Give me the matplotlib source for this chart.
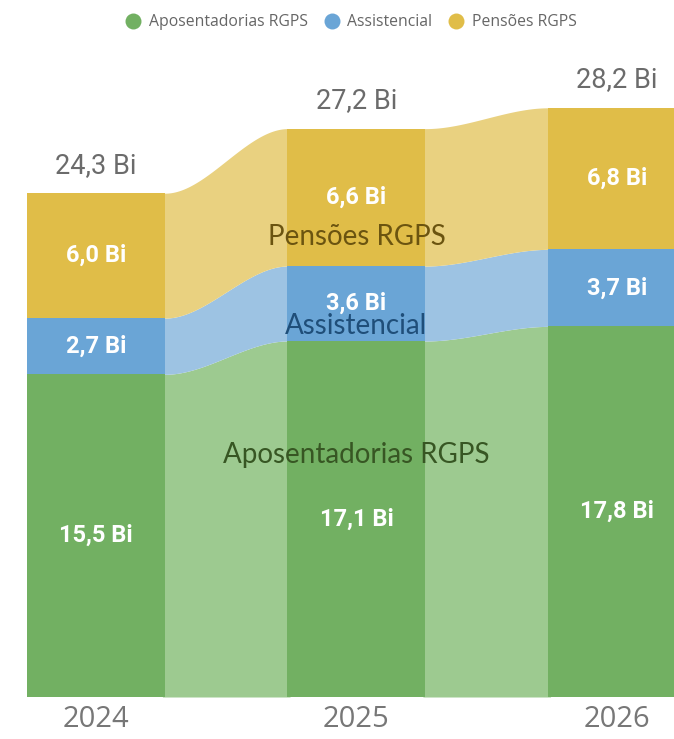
import numpy as np
import matplotlib
matplotlib.use("Agg")
from matplotlib import pyplot as plt
from matplotlib.lines import Line2D

years = ["2024", "2025", "2026"]
series = ["Aposentadorias RGPS", "Assistencial", "Pensões RGPS"]
aposentadorias = [15.5, 17.1, 17.8]
assistencial = [2.7, 3.6, 3.7]
pensoes = [6.0, 6.6, 6.8]
totals = [24.3, 27.2, 28.2]

bar_colors = ["#72B062", "#6AA5D6", "#E0BD48"]
ribbon_colors = ["#9DCA90", "#9DC3E3", "#E9D180"]
name_colors = ["#375623", "#1F4E79", "#6B5410"]


def fmt(v):
    return f"{v:.1f}".replace(".", ",") + " Bi"


def ease(u):
    return 3 * u**2 - 2 * u**3


def main():
    fig = plt.figure(figsize=(6.74, 7.39), dpi=100)
    ax = fig.add_axes([0, 42 / 739, 1, 647 / 739])

    values = np.array([aposentadorias, assistencial, pensoes])
    bottoms = np.vstack([np.zeros(3), np.cumsum(values, axis=0)[:-1]])
    x = np.arange(len(years))
    w = 0.53

    # bars
    for k in range(3):
        ax.bar(x, values[k], w, bottom=bottoms[k], color=bar_colors[k], linewidth=0, zorder=3)
        for i in range(3):
            ax.text(x[i], bottoms[k][i] + values[k][i] / 2, fmt(values[k][i]),
                    ha="center", va="center", color="white", fontsize=17,
                    fontweight="bold", family="Roboto", zorder=5)

    # ribbons between bars (a bit of overlap under the bars so no seam shows)
    for i in range(2):
        x0, x1 = x[i] + w / 2, x[i + 1] - w / 2
        xs = np.linspace(x0, x1, 120)
        u = ease((xs - x0) / (x1 - x0))
        xs = np.concatenate([[x0 - 0.01], xs, [x1 + 0.01]])
        u = np.concatenate([[0], u, [1]])
        for k in range(3):
            lo = bottoms[k][i] + (bottoms[k][i + 1] - bottoms[k][i]) * u
            top0 = bottoms[k][i] + values[k][i]
            top1 = bottoms[k][i + 1] + values[k][i + 1]
            hi = top0 + (top1 - top0) * u
            ax.fill_between(xs, lo, hi, color=ribbon_colors[k], linewidth=0, zorder=2)

    # totals
    for i in range(3):
        ax.text(x[i], bottoms[2][i] + values[2][i] + 0.7, fmt(totals[i]),
                ha="center", va="bottom", color="#6B6B6B", fontsize=19.5,
                family="Roboto")

    # series names
    ax.text(1, 22.1, "Pensões RGPS", ha="center", va="center", color=name_colors[2],
            fontsize=20, family="Lato", zorder=6)
    ax.text(1, 17.8, "Assistencial", ha="center", va="center", color=name_colors[1],
            fontsize=20, family="Lato", zorder=6)
    ax.text(1, 11.6, "Aposentadorias RGPS", ha="center", va="center", color=name_colors[0],
            fontsize=20, family="Lato", zorder=6)

    ax.set_xlim(-0.3685, 2.219)
    ax.set_ylim(0, 647 / 20.82)
    ax.set_xticks(x)
    ax.set_xticklabels(years, fontsize=21, color="#777777", family="Open Sans")
    ax.tick_params(axis="x", length=0, pad=6)
    ax.set_yticks([])
    for s in ax.spines.values():
        s.set_visible(False)

    handles = [Line2D([], [], marker="o", linestyle="", markersize=11.5,
                      markerfacecolor=c, markeredgewidth=0) for c in bar_colors]
    fig.legend(handles, series, loc="upper center", bbox_to_anchor=(0.515, 1.0),
               ncol=3, frameon=False, handletextpad=0.0, columnspacing=0.5,
               prop={"family": "Open Sans", "size": 11.3}, labelcolor="#666666")

    fig.savefig("out.png", dpi=100)


if __name__ == "__main__":
    main()
